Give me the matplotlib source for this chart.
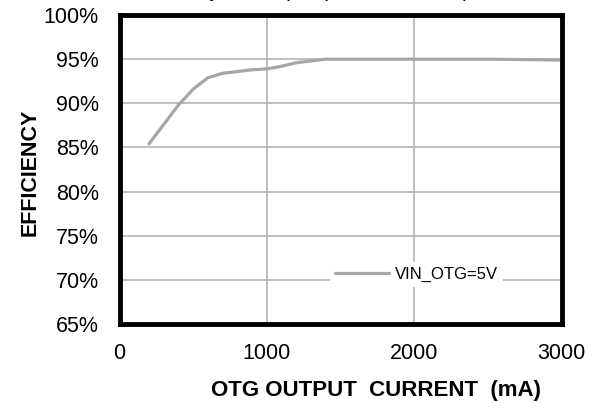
import matplotlib.pyplot as plt
from matplotlib.ticker import FuncFormatter

plt.rcParams['font.family'] = ['Liberation Sans', 'DejaVu Sans']

# OTG efficiency, VIN_OTG = 5V
current_ma = [200, 300, 400, 500, 600, 700, 800, 900, 1000, 1100, 1200, 1300,
              1400, 1500, 2000, 2500, 3000]
efficiency = [85.4, 87.6, 89.8, 91.6, 92.9, 93.4, 93.6, 93.8, 93.9, 94.2, 94.6,
              94.8, 95.0, 95.0, 95.0, 95.0, 94.9]

fig = plt.figure(figsize=(5.99, 4.03), dpi=100)
ax = fig.add_axes([0.1995, 0.196, 0.7379, 0.7667])

ax.plot(current_ma, efficiency, color='#a6a6a6', lw=2.3,
        solid_capstyle='round', label='VIN_OTG=5V', zorder=3)

ax.set_xlim(0, 3000)
ax.set_ylim(65, 100)
ax.set_xticks([0, 1000, 2000, 3000])
ax.set_yticks(range(65, 101, 5))
ax.yaxis.set_major_formatter(FuncFormatter(lambda v, p: '%d%%' % v))
ax.grid(True, color='#b4b4b4', lw=1.2)
ax.tick_params(length=0, labelsize=15.5)
ax.tick_params(axis='y', pad=15)
ax.tick_params(axis='x', pad=14)
for s in ax.spines.values():
    s.set_linewidth(3.5)
    s.set_zorder(5)

ax.set_xlabel('OTG OUTPUT  CURRENT  (mA)', fontsize=16, fontweight='bold')
ax.xaxis.set_label_coords(0.580, -0.182)
ax.set_ylabel('EFFICIENCY', fontsize=15.5, fontweight='bold')
ax.yaxis.set_label_coords(-0.178, 0.49)

leg = ax.legend(loc='center', bbox_to_anchor=(0.672, 0.159), fontsize=12,
                frameon=True, fancybox=False, handlelength=3.2,
                handletextpad=0.35, borderpad=0.3)
leg.get_frame().set_edgecolor('none')
leg.get_frame().set_facecolor('white')
leg.get_frame().set_alpha(1)

# title sits mostly above the top edge, as in the original
fig.text(470 / 599, 1.007, 'Efficiency vs Output (VIN OTG = 5V)', fontsize=15,
         ha='right', va='baseline')

fig.savefig('out.png', dpi=100)
